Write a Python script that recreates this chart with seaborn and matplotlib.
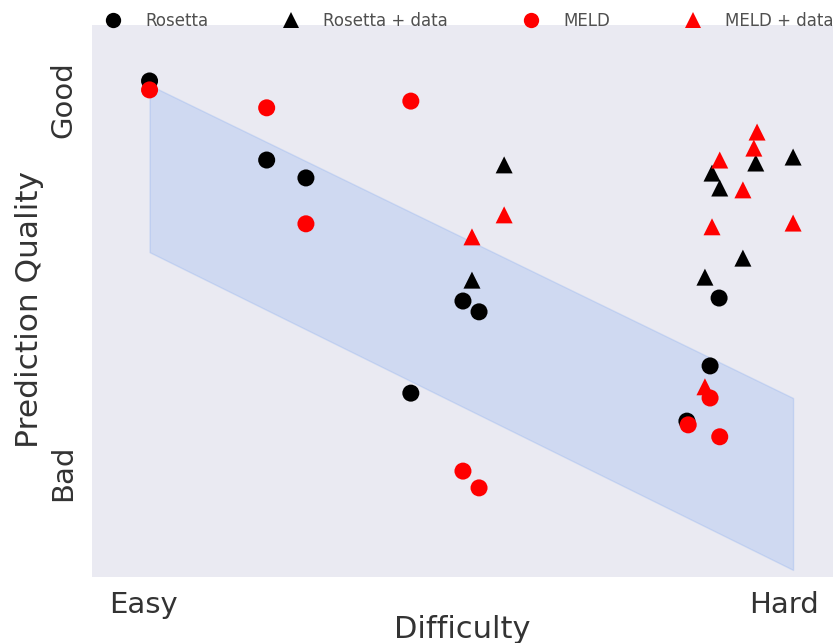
import numpy as np
import pandas as pd
import seaborn as sns
import matplotlib.pyplot as plt

# Difficulty (0 = easy, 1 = hard) vs prediction quality (0 = bad, 1 = good)
rosetta_x = [0.0, 0.182, 0.243, 0.487, 0.512, 0.406, 0.885, 0.871, 0.835]
rosetta_y = [1.051, 0.839, 0.791, 0.461, 0.432, 0.214, 0.469, 0.287, 0.139]

rosetta_data_x = [0.551, 0.501, 0.874, 0.886, 0.942, 1.0, 0.922, 0.863]
rosetta_data_y = [0.826, 0.517, 0.804, 0.764, 0.831, 0.847, 0.576, 0.525]

meld_x = [0.0, 0.182, 0.406, 0.243, 0.487, 0.512, 0.871, 0.837, 0.886]
meld_y = [1.027, 0.979, 0.997, 0.668, 0.005, -0.040, 0.201, 0.129, 0.097]

meld_data_x = [0.551, 0.501, 0.944, 0.939, 0.886, 0.922, 0.874, 1.0, 0.863]
meld_data_y = [0.692, 0.633, 0.914, 0.871, 0.839, 0.759, 0.660, 0.670, 0.231]

# expected band
band_x = [0.0, 1.0]
band_top = [1.040, 0.201]
band_bottom = [0.592, -0.260]

x_ticks = [-0.009, 0.986]
x_labels = ["Easy", "Hard"]
y_ticks = [0, 1]
y_labels = ["Bad", "Good"]

groups = ["Rosetta", "Rosetta + data", "MELD", "MELD + data"]
df = pd.concat([
    pd.DataFrame({"Difficulty": rosetta_x, "Quality": rosetta_y, "method": groups[0]}),
    pd.DataFrame({"Difficulty": rosetta_data_x, "Quality": rosetta_data_y, "method": groups[1]}),
    pd.DataFrame({"Difficulty": meld_x, "Quality": meld_y, "method": groups[2]}),
    pd.DataFrame({"Difficulty": meld_data_x, "Quality": meld_data_y, "method": groups[3]}),
])

sns.set_style("dark")
plt.rcParams["font.family"] = ["DejaVu Sans"]

fig = plt.figure(figsize=(8.33, 6.43), dpi=100)
ax = fig.add_axes([0.110, 0.1026, 0.890, 0.8585])

ax.fill_between(band_x, band_bottom, band_top, color="cornflowerblue", alpha=0.2, lw=1)

sns.scatterplot(data=df, x="Difficulty", y="Quality", hue="method", style="method",
                palette={groups[0]: "black", groups[1]: "black", groups[2]: "red", groups[3]: "red"},
                markers={groups[0]: "o", groups[1]: "^", groups[2]: "o", groups[3]: "^"},
                s=150, linewidth=0, ax=ax, zorder=3)

ax.set_xlim(-0.090, 1.062)
ax.set_ylim(-0.279, 1.201)
ax.set_xticks(x_ticks)
ax.set_xticklabels(x_labels, fontsize=21, color="#333333")
ax.set_yticks(y_ticks)
ax.set_yticklabels(y_labels, fontsize=21, rotation=90, va="center", color="#333333")
ax.tick_params(axis="x", pad=10, length=0)
ax.tick_params(axis="y", pad=10.5, length=0)
ax.set_xlabel("Difficulty", fontsize=22, labelpad=-3, color="#333333")
ax.set_ylabel("Prediction Quality", fontsize=22.5, color="#333333")
ax.yaxis.set_label_coords(-0.064, 0.484)
for s in ax.spines.values():
    s.set_visible(False)

sns.move_legend(ax, "center", bbox_to_anchor=(0.563, 0.967), bbox_transform=fig.transFigure,
                ncol=4, frameon=False, title=None, fontsize=12,
                handletextpad=1.45, columnspacing=4.45, handlelength=1.0, markerscale=0.9)
for t in ax.get_legend().get_texts():
    t.set_color("#505050")

fig.savefig("out.png", dpi=100)
